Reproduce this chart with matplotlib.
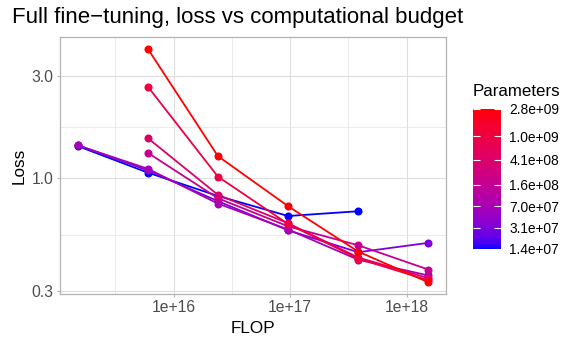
import numpy as np
import matplotlib
matplotlib.use("Agg")
import matplotlib.pyplot as plt
from matplotlib.colors import ListedColormap, LogNorm
from matplotlib.cm import ScalarMappable

plt.rcParams['font.family'] = ['Liberation Sans', 'DejaVu Sans']

# compute budgets (FLOP) and model sizes
budgets = [1.5e15, 6.0e15, 2.4e16, 9.6e16, 3.84e17, 1.536e18]
sizes = [1.4e7, 3.1e7, 7.0e7, 1.6e8, 4.1e8, 1.0e9, 2.8e9]

nan = np.nan
loss_14m = [1.415, 1.065, 0.83, 0.67, 0.705, nan]
loss_31m = [1.43, 1.09, 0.785, 0.575, 0.455, 0.503]
loss_70m = [1.425, 1.11, 0.765, 0.58, 0.42, 0.355]
loss_160m = [nan, 1.316, 0.81, 0.60, 0.49, 0.378]
loss_410m = [nan, 1.54, 0.84, 0.62, 0.43, 0.345]
loss_1b = [nan, 2.67, 1.02, 0.615, 0.425, 0.337]
loss_2_8b = [nan, 4.0, 1.27, 0.744, 0.458, 0.33]
losses = [loss_14m, loss_31m, loss_70m, loss_160m, loss_410m, loss_1b, loss_2_8b]


def srgb_to_lab(rgb):
    rgb = np.asarray(rgb, float)
    lin = np.where(rgb <= 0.04045, rgb / 12.92, ((rgb + 0.055) / 1.055) ** 2.4)
    m = np.array([[0.4124, 0.3576, 0.1805],
                  [0.2126, 0.7152, 0.0722],
                  [0.0193, 0.1192, 0.9505]])
    xyz = m @ lin / np.array([0.95047, 1.0, 1.08883])
    f = np.where(xyz > 0.008856, np.cbrt(xyz), 7.787 * xyz + 16 / 116)
    return np.array([116 * f[1] - 16, 500 * (f[0] - f[1]), 200 * (f[1] - f[2])])


def lab_to_srgb(lab):
    L, a, b = lab
    fy = (L + 16) / 116
    fx = fy + a / 500
    fz = fy - b / 200
    f = np.array([fx, fy, fz])
    xyz = np.where(f ** 3 > 0.008856, f ** 3, (f - 16 / 116) / 7.787)
    xyz = xyz * np.array([0.95047, 1.0, 1.08883])
    minv = np.array([[3.2406, -1.5372, -0.4986],
                     [-0.9689, 1.8758, 0.0415],
                     [0.0557, -0.2040, 1.0570]])
    lin = np.clip(minv @ xyz, 0, 1)
    rgb = np.where(lin <= 0.0031308, 12.92 * lin, 1.055 * lin ** (1 / 2.4) - 0.055)
    return np.clip(rgb, 0, 1)


lab_lo = srgb_to_lab([0, 0, 1])
lab_hi = srgb_to_lab([1, 0, 0])


def ramp(t):
    return lab_to_srgb(lab_lo + (lab_hi - lab_lo) * t)


cmap = ListedColormap([ramp(t) for t in np.linspace(0, 1, 256)])
lo, hi = np.log10(min(sizes)), np.log10(max(sizes))

fig = plt.figure(figsize=(5.81, 3.49), dpi=100)
ax = fig.add_axes([60 / 581, 55 / 349, 386 / 581, 257 / 349])

for s, y in zip(sizes, losses):
    c = ramp((np.log10(s) - lo) / (hi - lo))
    y = np.array(y)
    ok = ~np.isnan(y)
    ax.plot(np.array(budgets)[ok], y[ok], color=c, lw=1.3, zorder=3)
for s, y in zip(sizes, losses):
    c = ramp((np.log10(s) - lo) / (hi - lo))
    ax.plot(budgets, y, 'o', color=c, ms=5.8, mew=0, zorder=4)

ax.set_xscale('log')
ax.set_yscale('log')

# ggplot-like 5% expansion in log space
allv = np.concatenate([np.array(v) for v in losses])
allv = allv[~np.isnan(allv)]
ylo, yhi = np.log10(allv.min()), np.log10(allv.max())
xlo, xhi = np.log10(min(budgets)), np.log10(max(budgets))
ex, ey = 0.05 * (xhi - xlo), 0.05 * (yhi - ylo)
ax.set_xlim(10 ** (xlo - ex), 10 ** (xhi + ex))
ax.set_ylim(10 ** (ylo - ey), 10 ** (yhi + ey))

ax.set_xticks([1e16, 1e17, 1e18])
ax.set_xticklabels(['1e+16', '1e+17', '1e+18'])
ax.set_xticks([10 ** 15.5, 10 ** 16.5, 10 ** 17.5], minor=True)
ax.set_yticks([0.3, 1.0, 3.0])
ax.set_yticklabels(['0.3', '1.0', '3.0'])
ax.set_yticks([10 ** ((np.log10(0.3)) / 2), 10 ** (np.log10(3) / 2)], minor=True)
ax.yaxis.set_minor_formatter(plt.NullFormatter())
ax.xaxis.set_minor_formatter(plt.NullFormatter())

ax.grid(True, which='major', color='#DEDEDE', lw=0.8, zorder=0)
ax.grid(True, which='minor', color='#E8E8E8', lw=0.6, zorder=0)
ax.set_axisbelow(True)
ax.tick_params(which='major', length=2.5, color='#B3B3B3', width=0.8,
               labelsize=11.3, labelcolor='#4D4D4D', pad=2)
ax.tick_params(which='minor', length=0)
for sp in ax.spines.values():
    sp.set_color('#B3B3B3')
    sp.set_linewidth(0.9)

ax.set_xlabel('FLOP', fontsize=12.3, labelpad=4)
ax.set_ylabel('Loss', fontsize=12.3, labelpad=4)
fig.text(12 / 581, 1 - 17 / 349, 'Full fine\u2212tuning, loss vs computational budget',
         fontsize=16, ha='left', va='center')

# colour bar legend
cax = fig.add_axes([473 / 581, 100 / 349, 28 / 581, 140 / 349])
sm = ScalarMappable(norm=LogNorm(min(sizes), max(sizes)), cmap=cmap)
cb = fig.colorbar(sm, cax=cax, ticks=sizes)
cb.outline.set_visible(False)
cax.minorticks_off()
cax.set_yticklabels(['%.1e' % s for s in sizes])
cax.tick_params(which='both', direction='in', length=5, width=0.8, color='white',
                left=True, right=True, labelsize=9.9, labelcolor='black', pad=6)
fig.text(473 / 581, 1 - 92 / 349, 'Parameters', fontsize=12.2, ha='left', va='center')

fig.savefig('out.png', dpi=100)
